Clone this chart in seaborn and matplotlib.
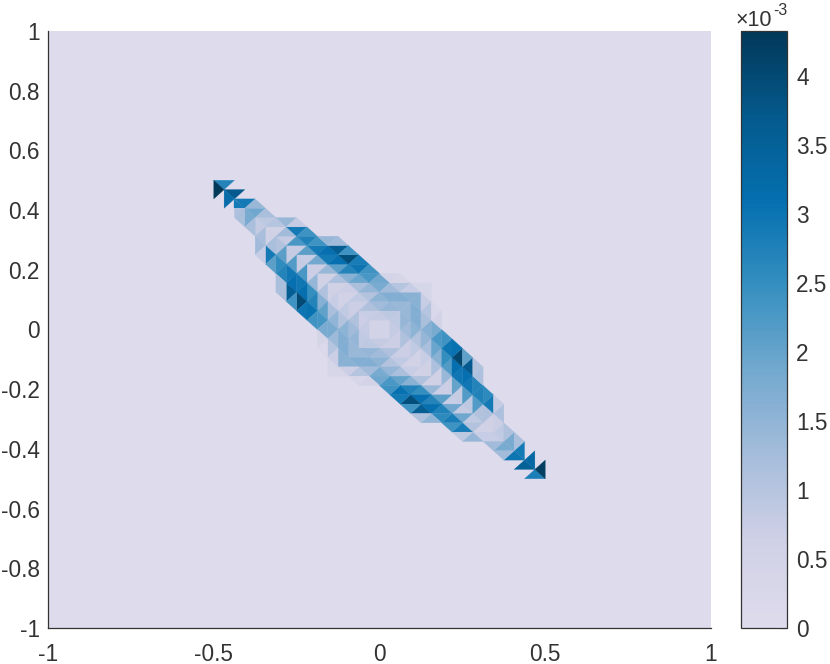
# plot.py
# Triangle mesh field on concentric square rings, seaborn theme and colour map
import numpy as np
import seaborn as sns
import matplotlib.pyplot as plt
from matplotlib.tri import Triangulation

# grid step of the mesh nodes
STEP = 1 / 32

# values (x 1e-3) per ring, innermost first; each strip starts at the corner
# on the band axis and alternates base-on-ring / apex-on-ring triangles
top_strips = [
    [0.5],
    [0.75, 0.8, 0.9],
    [0.7, 1.1, 1.3, 1.45, 1.4],
    [0.55, 0.85, 1.05, 1.55, 1.7, 1.7, 1.6],
    [0.6, 0.7, 1.2, 1.45, 1.8, 1.3, 1.0, 0.75, 0.35],
    [0.6, 1.15, 1.6, 1.95, 2.3, 1.9, 0.45, 0.3],
    [0.7, 1.4, 2.1, 2.7, 3.0, 2.4],
    [0.75, 1.85, 2.9, 3.1, 3.9, 2.85],
    [0.8, 2.1, 2.9, 3.1, 3.6, 2.4],
    [0.8, 2.3, 2.75, 2.4, 1.4, 1.3],
    [0.55, 1.3, 2.9, 2.4],
    [0.9, 1.0, 1.4, 0.8],
    [1.9, 1.2],
    [2.9, 1.4],
    [3.7],
    [2.7],
]
left_strips = [
    [0.5],
    [0.7, 0.8, 0.85],
    [0.7, 1.1, 1.3, 1.45, 1.4],
    [0.55, 0.85, 1.05, 1.55, 1.7, 1.7, 1.6],
    [0.6, 0.75, 1.2, 1.5, 1.8, 1.35, 1.0, 0.7, 0.35],
    [0.6, 1.1, 1.65, 2.05, 2.35, 1.8, 0.4, 0.2],
    [0.7, 1.45, 2.5, 2.7, 3.05, 2.4],
    [0.8, 2.3, 2.95, 3.1, 4.0, 3.0],
    [0.8, 2.2, 2.95, 3.1, 3.6, 2.4],
    [1.05, 2.1, 2.55, 2.7, 1.2, 1.2],
    [0.6, 1.2, 2.9, 2.1],
    [0.8, 1.2, 1.3, 0.75],
    [1.8, 1.2],
    [2.9, 1.2],
    [3.2],
    [4.3],
]
bottom_strips = [
    [0.5],
    [0.7, 0.8, 0.9],
    [0.7, 1.1, 1.3, 1.45, 1.4],
    [0.55, 0.85, 1.05, 1.55, 1.7, 1.7, 1.6],
    [0.6, 0.75, 1.2, 1.45, 1.8, 1.3, 1.0, 0.7, 0.3],
    [0.6, 1.1, 1.6, 2.0, 2.3, 1.9, 0.5, 0.3],
    [0.7, 1.4, 2.5, 2.75, 3.05, 2.4],
    [0.75, 2.1, 2.7, 3.1, 3.9, 2.9],
    [0.8, 1.9, 2.75, 3.1, 3.6, 2.4],
    [0.85, 1.9, 2.85, 2.6, 1.5, 1.1],
    [0.55, 1.05, 2.85, 2.4],
    [0.75, 0.75, 1.45, 0.9],
    [1.8, 1.3],
    [3.0, 1.3],
    [3.5],
    [2.8],
]
right_strips = [
    [0.5],
    [0.7, 0.8, 0.85],
    [0.7, 1.1, 1.3, 1.45, 1.4],
    [0.55, 0.85, 1.05, 1.55, 1.7, 1.7, 1.6],
    [0.6, 0.75, 1.2, 1.45, 1.65, 1.2, 1.0, 0.75, 0.35],
    [0.6, 1.15, 1.6, 1.95, 2.3, 1.8, 0.5, 0.25],
    [0.7, 1.4, 2.2, 2.5, 3.0, 2.4],
    [0.8, 2.0, 2.95, 3.1, 4.05, 3.05],
    [0.9, 2.2, 2.95, 3.1, 3.7, 2.05],
    [1.05, 2.2, 2.75, 2.7, 1.15, 1.05],
    [0.6, 1.1, 2.9, 2.6],
    [0.85, 0.7, 1.15, 0.8],
    [1.8, 1.1],
    [2.9, 1.2],
    [3.3],
    [4.2],
]
# the third left hand tip triangle is cut in two in the picture
tip_lower_value = 1.15

axis_ticks = [-1, -0.8, -0.6, -0.4, -0.2, 0, 0.2, 0.4, 0.6, 0.8, 1]
xaxis_ticks = [-1, -0.5, 0, 0.5, 1]
cbar_ticks = [0, 0.5, 1, 1.5, 2, 2.5, 3, 3.5, 4]
cbar_labels = ["0", "0.5", "1", "1.5", "2", "2.5", "3", "3.5", "4"]
VMAX = 4.33

sns.set_style("white")
plt.rcParams["font.family"] = ["Liberation Sans", "DejaVu Sans"]
INK = "#333333"

cmap = sns.blend_palette(
    ["#DEDBEC", "#D0D1E6", "#A6BDDB", "#74A9CF", "#3690C0", "#0570B0", "#045A8D", "#023858"],
    n_colors=64, as_cmap=True,
)


def strip_tri(k, m):
    # nodes of triangle m in the top strip of ring k, from the upper left corner
    n = m // 2
    if m % 2 == 0:
        return [(-k + 2 * n, k), (-k + 2 * n + 2, k), (-k + 2 * n + 1, k - 1)]
    return [(-k + 2 * n + 1, k - 1), (-k + 2 * n + 3, k - 1), (-k + 2 * n + 2, k)]


# the other three sides are mirror images of the top strip's node layout
sides = [
    (top_strips, lambda i, j: (i, j)),
    (left_strips, lambda i, j: (-j, -i)),
    (bottom_strips, lambda i, j: (-i, -j)),
    (right_strips, lambda i, j: (j, i)),
]

nodes, triangles, values = {}, [], []
for strips, flip in sides:
    for k, strip in enumerate(strips, start=1):
        for m, v in enumerate(strip):
            corners = [flip(i, j) for i, j in strip_tri(k, m)]
            if strips is left_strips and k == 14 and m == 0:
                # hanging node halfway down the long side
                a, b, c = corners
                mid = (a[0], (a[1] + b[1]) // 2)
                triangles.append([nodes.setdefault(p, len(nodes)) for p in (a, mid, c)])
                values.append(v)
                corners = [mid, b, c]
                v = tip_lower_value
            triangles.append([nodes.setdefault(p, len(nodes)) for p in corners])
            values.append(v)

xy = np.array(list(nodes.keys())) * STEP
mesh_tri = Triangulation(xy[:, 0], xy[:, 1], triangles)

fig = plt.figure(figsize=(8.3, 6.64), dpi=100)
W, H = 830, 664
ax = fig.add_axes([48 / W, 1 - 628 / H, (711 - 48) / W, (628 - 31) / H])
cax = fig.add_axes([741 / W, 1 - 628 / H, (787 - 741) / W, (628 - 31) / H])

ax.set_facecolor(cmap(0.0))
mesh = ax.tripcolor(mesh_tri, facecolors=np.array(values), cmap=cmap, vmin=0, vmax=VMAX,
                    edgecolors="face", linewidth=0.2)
ax.set_xlim(-1, 1)
ax.set_ylim(-1, 1)
ax.set_xticks(xaxis_ticks)
ax.set_xticklabels([f"{t:g}" for t in xaxis_ticks])
ax.set_yticks(axis_ticks)
ax.set_yticklabels([f"{t:g}" for t in axis_ticks])
ax.tick_params(axis="x", direction="in", length=5.5, width=0.8, color=INK, labelcolor=INK, labelsize=16.3, pad=10.5)
ax.tick_params(axis="y", direction="in", length=5.5, width=0.8, color=INK, labelcolor=INK, labelsize=16.3, pad=6)
# the filled plot box hides all ticks but the ones at its far ends
for axis in (ax.xaxis, ax.yaxis):
    for tick in axis.get_major_ticks()[:-1]:
        tick.tick1line.set_visible(False)
sns.despine(ax=ax)
for side in ["left", "bottom"]:
    ax.spines[side].set_color(INK)
    ax.spines[side].set_linewidth(0.9)

cb = fig.colorbar(mesh, cax=cax, ticks=cbar_ticks)
cb.ax.set_yticklabels(cbar_labels)
cb.ax.tick_params(direction="in", length=5, width=0.8, color=INK, labelcolor=INK, labelsize=16.3, pad=6.5)
cb.outline.set_edgecolor(INK)
cb.outline.set_linewidth(0.9)

fig.text(736 / W, 1 - 26 / H, "\u00d710", fontsize=15.5, color=INK, ha="left", va="baseline")
fig.text(773 / W, 1 - 15 / H, "-3", fontsize=11.5, color=INK, ha="left", va="baseline")

fig.savefig("out.png", dpi=100)
